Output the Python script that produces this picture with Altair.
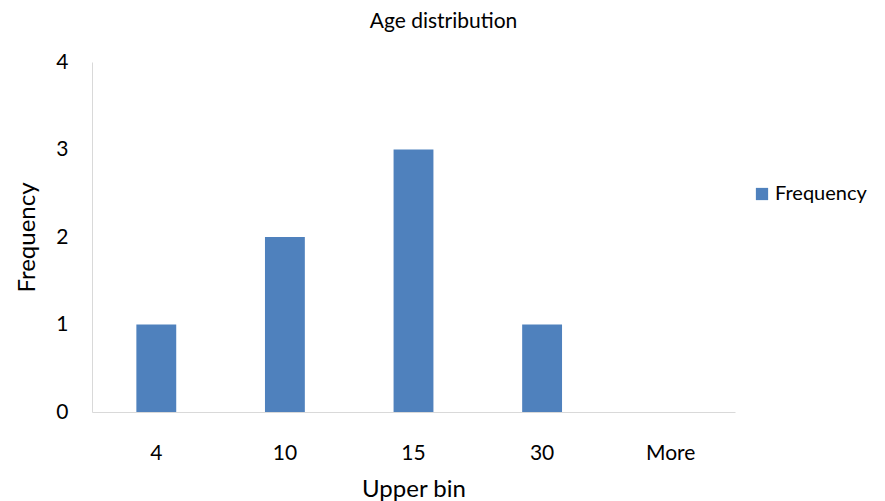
import altair as alt
import pandas as pd

bins = ["4", "10", "15", "30", "More"]
freq = [1, 2, 3, 1, 0]
series = ["Frequency"] * len(bins)

df = pd.DataFrame({"bin": bins, "freq": freq, "series": series})

FONT = "Lato"

chart = alt.Chart(df).mark_bar().encode(
    x=alt.X("bin:N", sort=bins, title="Upper bin",
            scale=alt.Scale(paddingInner=0.69, paddingOuter=0.345),
            axis=alt.Axis(labelAngle=0, ticks=False, labelPadding=30, titlePadding=14,
                          labelFontSize=21, titleFontSize=24, titleFontWeight="normal",
                          domainColor="#d9d9d9", labelColor="#000", titleColor="#000")),
    y=alt.Y("freq:Q", title="Frequency",
            scale=alt.Scale(domain=[0, 4]),
            axis=alt.Axis(values=[0, 1, 2, 3, 4], format="d", grid=False, ticks=False,
                          labelPadding=24, titlePadding=16,
                          labelFontSize=21, titleFontSize=24, titleFontWeight="normal",
                          domainColor="#d9d9d9", labelColor="#000", titleColor="#000")),
    color=alt.Color("series:N", scale=alt.Scale(range=["#4F81BD"]),
                    legend=alt.Legend(title=None, orient="none", legendX=660, legendY=122,
                                      symbolType="square", symbolSize=150, labelOffset=3,
                                      labelFontSize=20, labelColor="#000",
                                      symbolStrokeWidth=0)),
).properties(
    width=643, height=350,
    title=alt.Title("Age distribution", fontSize=21, fontWeight="normal", color="#000",
                    offset=19, dx=30),
    autosize=alt.AutoSizeParams(type="none"),
    padding={"left": 84, "top": 54, "right": 142, "bottom": 89},
).configure(font=FONT).configure_view(stroke=None)

chart.save("out.html", embed_options={"renderer": "svg", "actions": False})
